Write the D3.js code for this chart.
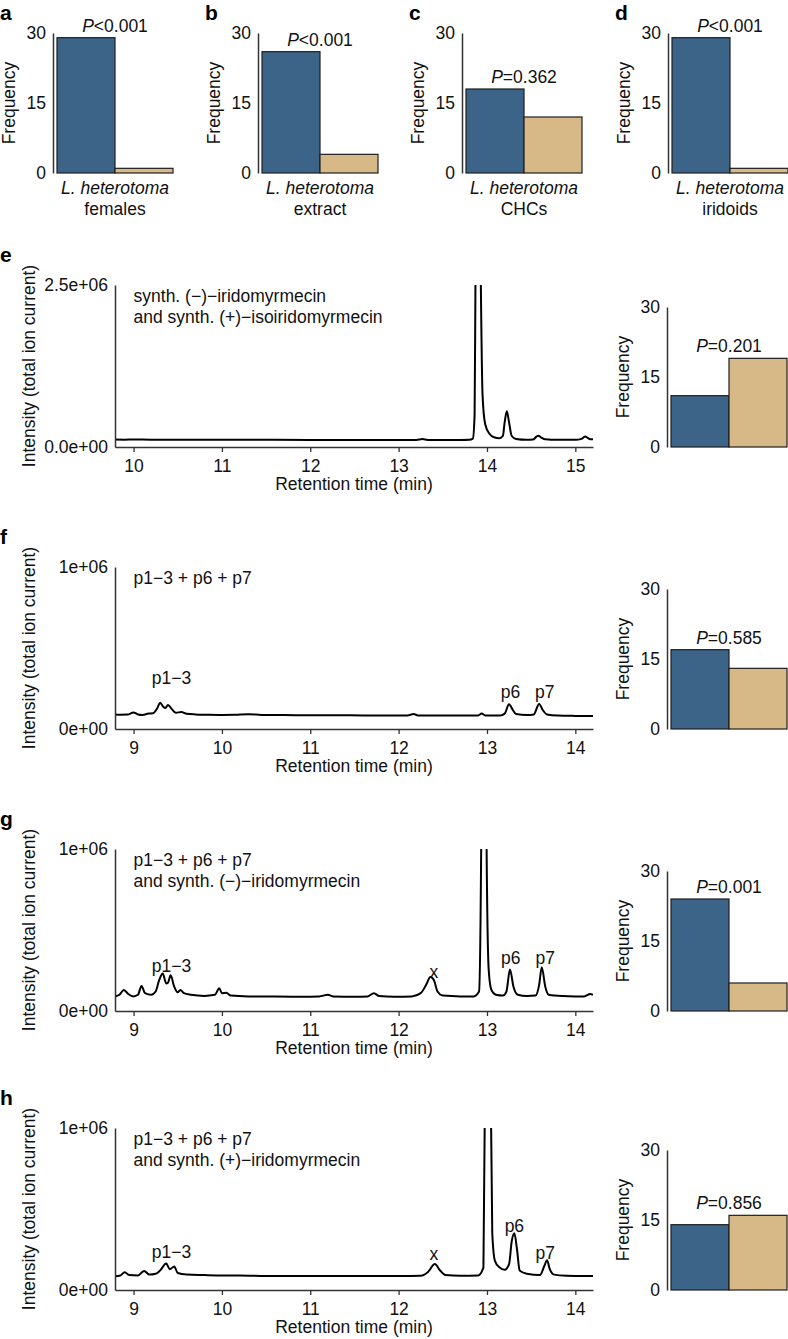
<!DOCTYPE html>
<html><head><meta charset="utf-8">
<script src="https://cdn.jsdelivr.net/npm/d3@7"></script>
<style>body{margin:0;background:#fff}svg{display:block}</style>
</head><body>
<script>
// ---------- data ----------
const topLetters = ["a", "b", "c", "d"];
const topCategories = ["females", "extract", "CHCs", "iridoids"];
const topBlue = [29, 26, 18, 29];
const topTan = [1, 4, 12, 1];
const topP = ["<0.001", "<0.001", "=0.362", "<0.001"];
const sideBlue = [11, 17, 24, 14];
const sideTan = [19, 13, 6, 16];
const sideP = ["=0.201", "=0.585", "=0.001", "=0.856"];
const freqTicks = [0, 15, 30];
const chromLetters = ["e", "f", "g", "h"];
const xTicksE = [10, 11, 12, 13, 14, 15];
const xTicksFGH = [9, 10, 11, 12, 13, 14];
const yTicksE = [0, 2.5];
const yTickLabelsE = ["0.0e+00", "2.5e+06"];
const yTicksFGH = [0, 1];
const yTickLabelsFGH = ["0e+00", "1e+06"];
// intensity in units of 1e6
const traceE = [[9.79,0.115],[9.9,0.113],[10.0,0.116],[10.2,0.112],[10.5,0.112],[10.8,0.111],[11.0,0.111],[11.3,0.11],[11.6,0.11],[12.0,0.109],[12.3,0.108],[12.6,0.108],[13.0,0.107],[13.2,0.108],[13.27,0.122],[13.33,0.108],[13.5,0.108],[13.7,0.109],[13.8,0.112],[13.84,0.13],[13.86,0.5],[13.87,2.6],[13.88,4.0],[13.92,4.0],[13.93,2.6],[13.95,0.8],[13.98,0.35],[14.03,0.2],[14.08,0.15],[14.14,0.135],[14.18,0.17],[14.2,0.38],[14.225,0.55],[14.25,0.38],[14.28,0.17],[14.33,0.125],[14.45,0.112],[14.52,0.115],[14.56,0.16],[14.58,0.175],[14.61,0.15],[14.66,0.118],[14.8,0.11],[15.0,0.11],[15.07,0.125],[15.11,0.163],[15.14,0.14],[15.17,0.12],[15.2,0.118]];
const traceF = [[8.79,0.09],[8.85,0.088],[8.93,0.089],[9.0,0.102],[9.05,0.09],[9.1,0.087],[9.17,0.095],[9.22,0.097],[9.27,0.13],[9.3,0.162],[9.34,0.135],[9.36,0.13],[9.39,0.148],[9.43,0.125],[9.48,0.1],[9.54,0.105],[9.6,0.094],[9.7,0.09],[9.85,0.088],[10.0,0.087],[10.15,0.088],[10.3,0.091],[10.45,0.087],[10.7,0.086],[11.0,0.085],[11.3,0.085],[11.6,0.084],[11.9,0.084],[12.1,0.084],[12.17,0.092],[12.22,0.084],[12.5,0.083],[12.8,0.083],[12.9,0.084],[12.94,0.095],[12.98,0.084],[13.15,0.084],[13.2,0.095],[13.25,0.153],[13.29,0.12],[13.33,0.092],[13.45,0.086],[13.53,0.09],[13.59,0.155],[13.63,0.118],[13.68,0.09],[13.8,0.083],[14.0,0.081],[14.2,0.08]];
const traceG = [[8.79,0.09],[8.84,0.1],[8.89,0.13],[8.94,0.105],[9.0,0.09],[9.05,0.1],[9.09,0.155],[9.13,0.11],[9.2,0.1],[9.25,0.12],[9.29,0.19],[9.33,0.232],[9.37,0.17],[9.39,0.175],[9.42,0.22],[9.46,0.15],[9.5,0.115],[9.53,0.13],[9.57,0.11],[9.65,0.1],[9.8,0.093],[9.92,0.1],[9.97,0.14],[10.0,0.11],[10.05,0.112],[10.1,0.095],[10.3,0.09],[10.6,0.089],[10.9,0.088],[11.1,0.09],[11.2,0.1],[11.26,0.09],[11.5,0.088],[11.65,0.09],[11.72,0.11],[11.78,0.092],[11.95,0.088],[12.15,0.09],[12.25,0.11],[12.31,0.16],[12.36,0.21],[12.4,0.19],[12.44,0.12],[12.5,0.095],[12.7,0.09],[12.85,0.09],[12.91,0.12],[12.935,1.05],[12.94,1.6],[12.99,1.6],[12.995,1.05],[13.02,0.25],[13.05,0.13],[13.1,0.1],[13.18,0.095],[13.22,0.12],[13.26,0.256],[13.3,0.15],[13.35,0.1],[13.45,0.092],[13.55,0.095],[13.59,0.16],[13.62,0.27],[13.66,0.15],[13.7,0.1],[13.85,0.092],[14.0,0.09],[14.1,0.09],[14.17,0.105],[14.2,0.1]];
const traceH = [[8.79,0.085],[8.85,0.09],[8.9,0.11],[8.95,0.092],[9.05,0.09],[9.12,0.118],[9.18,0.095],[9.25,0.1],[9.3,0.12],[9.37,0.163],[9.41,0.128],[9.46,0.145],[9.5,0.105],[9.6,0.095],[9.8,0.092],[10.0,0.09],[10.2,0.09],[10.5,0.087],[11.0,0.086],[11.5,0.086],[12.0,0.086],[12.25,0.088],[12.33,0.11],[12.41,0.16],[12.47,0.12],[12.53,0.092],[12.7,0.088],[12.9,0.09],[12.96,0.14],[12.975,1.1],[12.98,1.6],[13.04,1.6],[13.045,1.1],[13.06,0.35],[13.09,0.18],[13.14,0.14],[13.2,0.125],[13.25,0.16],[13.28,0.3],[13.31,0.35],[13.34,0.25],[13.37,0.12],[13.45,0.1],[13.6,0.092],[13.65,0.15],[13.68,0.184],[13.71,0.13],[13.76,0.095],[13.9,0.088],[14.1,0.086],[14.2,0.086]];
const peakLabelsE = [];
const peakLabelsF = [["p1−3", 9.43, 0.28], ["p6", 13.267, 0.19], ["p7", 13.655, 0.19]];
const peakLabelsG = [["p1−3", 9.43, 0.24], ["x", 12.40, 0.205], ["p6", 13.27, 0.29], ["p7", 13.66, 0.29]];
const peakLabelsH = [["p1−3", 9.43, 0.196], ["x", 12.40, 0.185], ["p6", 13.31, 0.355], ["p7", 13.66, 0.192]];
const annoE = ["synth. (−)−iridomyrmecin", "and synth. (+)−isoiridomyrmecin"];
const annoF = ["p1−3 + p6 + p7"];
const annoG = ["p1−3 + p6 + p7", "and synth. (−)−iridomyrmecin"];
const annoH = ["p1−3 + p6 + p7", "and synth. (+)−iridomyrmecin"];

// ---------- style / layout ----------
const W = 788, H = 1339;
const FONT = "'Liberation Sans', Arial, Helvetica, sans-serif";
const FS = 17.5;
const BLUE = "#3c6489", TAN = "#d6b986", AXC = "#333";

const svg = d3.select("body").append("svg").attr("width", W).attr("height", H)
  .attr("font-family", FONT).attr("font-size", FS);
svg.append("rect").attr("width", W).attr("height", H).attr("fill", "#fff");

function styleAxis(g) {
  g.attr("font-family", FONT).attr("font-size", FS);
  g.select(".domain").attr("stroke", AXC).attr("stroke-width", 1.5);
  g.selectAll(".tick line").attr("stroke", AXC).attr("stroke-width", 1.3);
  g.selectAll(".tick text").attr("fill", "#111");
}

function barPanel(axisX, y0, blue, tan, p) {
  const g = svg.append("g");
  const y = d3.scaleLinear().domain([0, 30]).range([y0, y0 - 140]);
  const x = d3.scaleBand().domain(["blue", "tan"]).range([axisX + 4, axisX + 120]).padding(0);
  const vals = [["blue", blue, BLUE], ["tan", tan, TAN]];
  g.selectAll("rect.bar").data(vals).enter().append("rect")
    .attr("x", d => x(d[0])).attr("width", x.bandwidth())
    .attr("y", d => y(d[1])).attr("height", d => y(0) - y(d[1]))
    .attr("fill", d => d[2]).attr("stroke", "#1e1e1e").attr("stroke-width", 1.2);
  const ax = g.append("g").attr("transform", `translate(${axisX},0)`)
    .call(d3.axisLeft(y).tickValues(freqTicks).tickSize(0).tickSizeOuter(0).tickPadding(7));
  styleAxis(ax);
  g.append("text").attr("transform", `translate(${axisX - 38},${(y(0) + y(30)) / 2}) rotate(-90)`)
    .attr("text-anchor", "middle").attr("fill", "#111").text("Frequency");
  const t = g.append("text").attr("x", axisX + 62).attr("y", y(Math.max(blue, tan)) - 6)
    .attr("text-anchor", "middle").attr("fill", "#111");
  t.append("tspan").attr("font-style", "italic").text("P");
  t.append("tspan").text(p);
  return g;
}

// ---------- top row a-d ----------
const topAxisX = [53, 258, 462, 668];
topLetters.forEach((L, i) => {
  const ax = topAxisX[i];
  barPanel(ax, 173, topBlue[i], topTan[i], topP[i]);
  svg.append("text").attr("x", ax - 53).attr("y", 20).attr("font-weight", "bold")
    .attr("font-size", 21).attr("fill", "#000").text(L);
  svg.append("text").attr("x", ax + 62).attr("y", 194).attr("text-anchor", "middle")
    .attr("font-style", "italic").attr("fill", "#111").text("L. heterotoma");
  svg.append("text").attr("x", ax + 62).attr("y", 215).attr("text-anchor", "middle")
    .attr("fill", "#111").text(topCategories[i]);
});

// ---------- chromatograms e-h ----------
const chrom = [
  {T: 285, Z: 447, dom: [9.79, 15.2], xt: xTicksE, yt: yTicksE, ytl: yTickLabelsE, ymax: 2.5, data: traceE, labels: peakLabelsE, anno: annoE},
  {T: 567, Z: 729, dom: [8.79, 14.2], xt: xTicksFGH, yt: yTicksFGH, ytl: yTickLabelsFGH, ymax: 1, data: traceF, labels: peakLabelsF, anno: annoF},
  {T: 849, Z: 1011, dom: [8.79, 14.2], xt: xTicksFGH, yt: yTicksFGH, ytl: yTickLabelsFGH, ymax: 1, data: traceG, labels: peakLabelsG, anno: annoG},
  {T: 1128, Z: 1290, dom: [8.79, 14.2], xt: xTicksFGH, yt: yTicksFGH, ytl: yTickLabelsFGH, ymax: 1, data: traceH, labels: peakLabelsH, anno: annoH}
];
const X0 = 115, X1 = 593;
chrom.forEach((c, i) => {
  const g = svg.append("g");
  const x = d3.scaleLinear().domain(c.dom).range([X0, X1]);
  const y = d3.scaleLinear().domain([0, c.ymax]).range([c.Z, c.T]);
  const cid = "clip" + i;
  svg.append("clipPath").attr("id", cid).append("rect")
    .attr("x", X0).attr("y", c.T).attr("width", X1 - X0).attr("height", c.Z - c.T);
  const line = d3.line().x(d => x(d[0])).y(d => y(d[1])).curve(d3.curveMonotoneX);
  g.append("path").datum(c.data).attr("d", line).attr("clip-path", `url(#${cid})`)
    .attr("fill", "none").attr("stroke", "#000").attr("stroke-width", 2).attr("stroke-linejoin", "round");
  const xa = g.append("g").attr("transform", `translate(0,${c.Z})`)
    .call(d3.axisBottom(x).tickValues(c.xt).tickSize(5).tickSizeOuter(0).tickPadding(8).tickFormat(d3.format("d")));
  styleAxis(xa);
  const ya = g.append("g").attr("transform", `translate(${X0},0)`)
    .call(d3.axisLeft(y).tickValues(c.yt).tickSize(0).tickSizeOuter(0).tickPadding(7)
      .tickFormat((d, k) => c.ytl[k]));
  styleAxis(ya);
  g.append("text").attr("x", (X0 + X1) / 2).attr("y", c.Z + 43).attr("text-anchor", "middle")
    .attr("fill", "#111").text("Retention time (min)");
  g.append("text").attr("transform", `translate(35,${(c.T + c.Z) / 2}) rotate(-90)`)
    .attr("text-anchor", "middle").attr("fill", "#111").text("Intensity (total ion current)");
  c.anno.forEach((s, k) => {
    g.append("text").attr("x", x(c.xt[0])).attr("y", c.T + 17 + k * 21).attr("fill", "#111").text(s);
  });
  c.labels.forEach(l => {
    g.append("text").attr("x", x(l[1])).attr("y", y(l[2])).attr("text-anchor", "middle")
      .attr("fill", "#111").text(l[0]);
  });
  svg.append("text").attr("x", 0).attr("y", c.T - 23).attr("font-weight", "bold")
    .attr("font-size", 21).attr("fill", "#000").text(chromLetters[i]);
  barPanel(667, c.Z, sideBlue[i], sideTan[i], sideP[i]);
});
</script>
</body></html>
